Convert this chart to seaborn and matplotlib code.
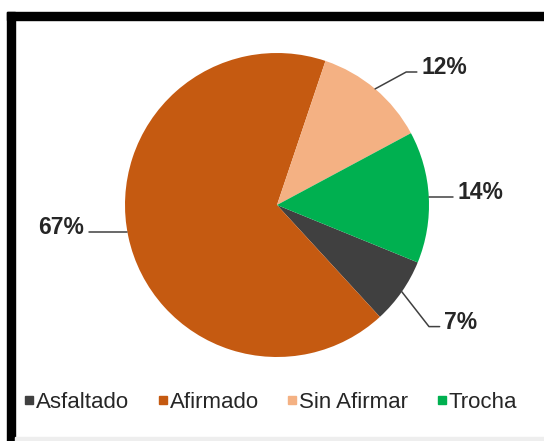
import matplotlib
matplotlib.use("Agg")
import numpy as np
import seaborn as sns
import matplotlib.pyplot as plt
from matplotlib.patches import Rectangle
from matplotlib.lines import Line2D

sns.set_theme(style="white")
plt.rcParams['font.family'] = ['Liberation Sans', 'DejaVu Sans']

categorias = ['Asfaltado', 'Afirmado', 'Sin Afirmar', 'Trocha']
porcentajes = [7, 67, 12, 14]
colores = ['#404040', '#C55A11', '#F4B183', '#00B050']
etiquetas = ['7%', '67%', '12%', '14%']

# label placement (data coords, pie radius = 1) and elbow of leader line
pos_texto = [(1.10, -0.80), (-1.27, -0.178), (0.95, 0.875), (1.19, 0.055)]
con_codo = [True, False, True, False]

fig = plt.figure(figsize=(5.44, 4.41), dpi=100)

# marco negro del recuadro
fig.patches.append(Rectangle((7 / 544, 0), 8 / 544, 429 / 441, transform=fig.transFigure,
                             color='black', zorder=0))
fig.patches.append(Rectangle((7 / 544, 421 / 441), 537 / 544, 8 / 441, transform=fig.transFigure,
                             color='black', zorder=0))
fig.patches.append(Rectangle((15 / 544, 0), 529 / 544, 4 / 441, transform=fig.transFigure,
                             color='#eeeeee', zorder=0))

ax = fig.add_axes([125 / 544, 84 / 441, 304 / 544, 304 / 441])
wedges, _ = ax.pie(porcentajes, colors=colores, startangle=-22.2, counterclock=False,
                   radius=1, wedgeprops=dict(linewidth=0))
ax.set_xlim(-1, 1)
ax.set_ylim(-1, 1)
ax.set_aspect('auto')
ax.axis('off')

for w, txt, pt, codo in zip(wedges, etiquetas, pos_texto, con_codo):
    izq = pt[0] < 0
    gap = 0.03 if izq else -0.03
    if codo:
        ang = np.deg2rad((w.theta1 + w.theta2) / 2)
        x0, y0 = np.cos(ang), np.sin(ang)
        xe = pt[0] + gap - 0.07
        xs = [x0, xe, pt[0] + gap]
        ys = [y0, pt[1], pt[1]]
    else:
        x0 = np.sqrt(1 - pt[1] ** 2) * (-1 if izq else 1)
        xs = [x0, pt[0] + gap]
        ys = [pt[1], pt[1]]
    ax.plot(xs, ys, color='#404040', lw=1.1, clip_on=False)
    ax.text(pt[0], pt[1] - 0.015, txt, ha='right' if izq else 'left', va='baseline',
            fontsize=16.5, fontweight='bold', color='#262626', clip_on=False)

handles = [Line2D([], [], marker='s', linestyle='none', markersize=5.5,
                  markerfacecolor=c, markeredgecolor=c) for c in colores]
fig.legend(handles, categorias, loc='center', bbox_to_anchor=(271 / 544, 1 - 402 / 441),
           ncol=4, frameon=False, fontsize=16, handlelength=0.4, handletextpad=0.12,
           columnspacing=1.3, labelcolor='#262626')

fig.savefig('out.png', dpi=100)
